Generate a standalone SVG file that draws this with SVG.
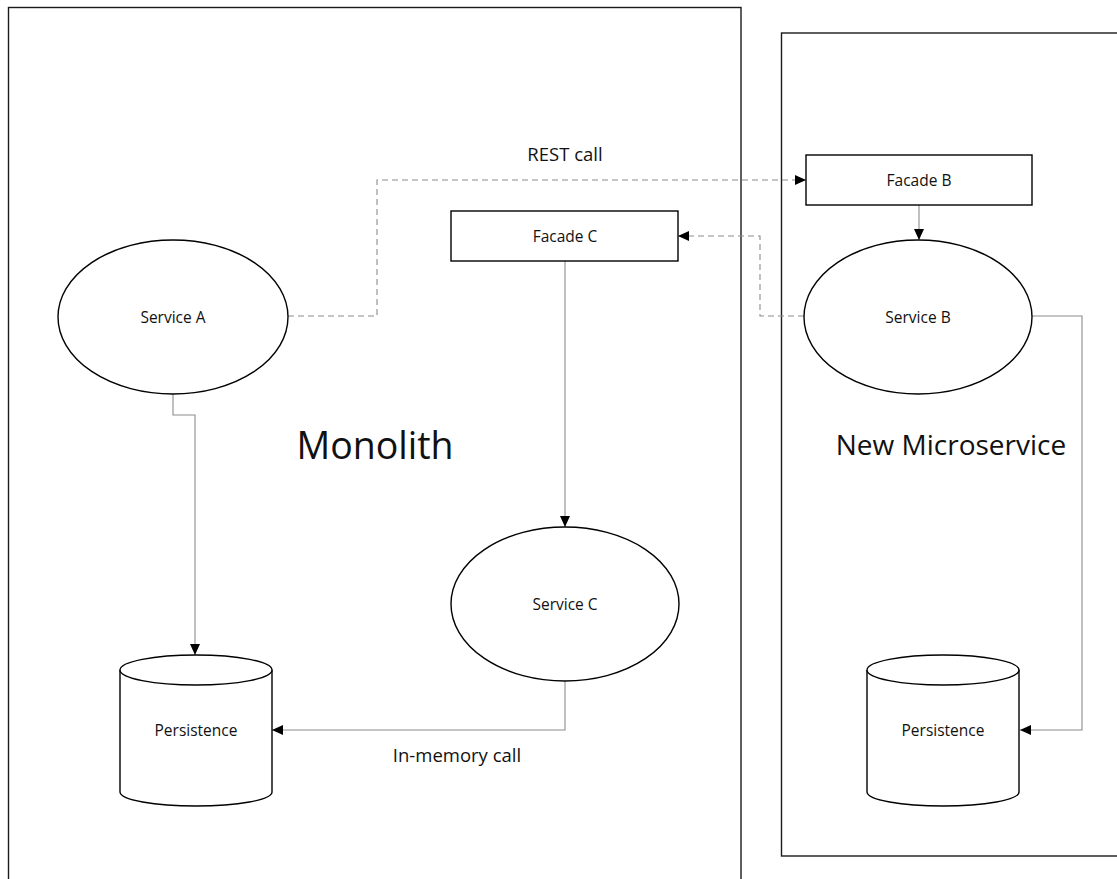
<svg xmlns="http://www.w3.org/2000/svg" width="1117" height="879" viewBox="0 0 1117 879">
  <style>
    .boundary { fill: none; stroke: #1a1a1a; stroke-width: 1.4; }
    .shape { fill: #ffffff; stroke: #000000; stroke-width: 1.4; }
    .conn { fill: none; stroke: #8c8c8c; stroke-width: 1.1; }
    .dash { stroke-dasharray: 6 4; }
    .label { font-family: "Open Sans", "Liberation Sans", sans-serif; fill: #111111; text-anchor: middle; dominant-baseline: central; }
    .small { font-size: 15.5px; }
    .mid { font-size: 18.5px; }
  </style>
  <defs>
    <marker id="arrow" markerUnits="userSpaceOnUse" markerWidth="12" markerHeight="10" refX="11" refY="5" orient="auto">
      <path d="M0,0 L11,5 L0,10 Z" fill="#000000"/>
    </marker>
  </defs>

  <rect width="1117" height="879" fill="#ffffff"/>

  <!-- container boundaries -->
  <g id="monolith">
    <rect class="boundary" x="8.5" y="7.5" width="732.5" height="900"/>
    <text class="label" x="375" y="444" font-size="37.5">Monolith</text>
  </g>
  <g id="microservice">
    <rect class="boundary" x="781.5" y="33" width="360" height="823"/>
    <text class="label" x="951" y="444" font-size="28">New Microservice</text>
  </g>

  <!-- connectors -->
  <g id="connectors">
    <path class="conn dash" d="M288,316 H377 V180 H806" marker-end="url(#arrow)"/>
    <path class="conn dash" d="M804,316 H760 V236 H678" marker-end="url(#arrow)"/>
    <path class="conn" d="M565,261 V527" marker-end="url(#arrow)"/>
    <path class="conn" d="M919,205 V240" marker-end="url(#arrow)"/>
    <path class="conn" d="M173,394 V415 H195 V655" marker-end="url(#arrow)"/>
    <path class="conn" d="M565,681 V730 H272" marker-end="url(#arrow)"/>
    <path class="conn" d="M1032,316 H1082 V730 H1020" marker-end="url(#arrow)"/>
    <text class="label mid" x="565" y="153">REST call</text>
    <text class="label mid" x="457" y="754">In-memory call</text>
  </g>

  <!-- nodes -->
  <g id="service-a">
    <ellipse class="shape" cx="173" cy="317" rx="115" ry="77"/>
    <text class="label small" x="173" y="317">Service A</text>
  </g>
  <g id="facade-c">
    <rect class="shape" x="451" y="211" width="227" height="50"/>
    <text class="label small" x="565" y="236">Facade C</text>
  </g>
  <g id="service-c">
    <ellipse class="shape" cx="565" cy="604" rx="114" ry="77"/>
    <text class="label small" x="565" y="604">Service C</text>
  </g>
  <g id="facade-b">
    <rect class="shape" x="806" y="155" width="226" height="50"/>
    <text class="label small" x="919" y="180">Facade B</text>
  </g>
  <g id="service-b">
    <ellipse class="shape" cx="918" cy="317" rx="114" ry="77"/>
    <text class="label small" x="918" y="317">Service B</text>
  </g>
  <g id="persistence-monolith">
    <path class="shape" d="M120,670 V792 C120,800 155,806 196,806 C237,806 272,800 272,792 V670"/>
    <ellipse class="shape" cx="196" cy="670" rx="76" ry="15"/>
    <text class="label small" x="196" y="730">Persistence</text>
  </g>
  <g id="persistence-microservice">
    <path class="shape" d="M867,670 V792 C867,800 902,806 943,806 C984,806 1019,800 1019,792 V670"/>
    <ellipse class="shape" cx="943" cy="670" rx="76" ry="15"/>
    <text class="label small" x="943" y="730">Persistence</text>
  </g>
</svg>
